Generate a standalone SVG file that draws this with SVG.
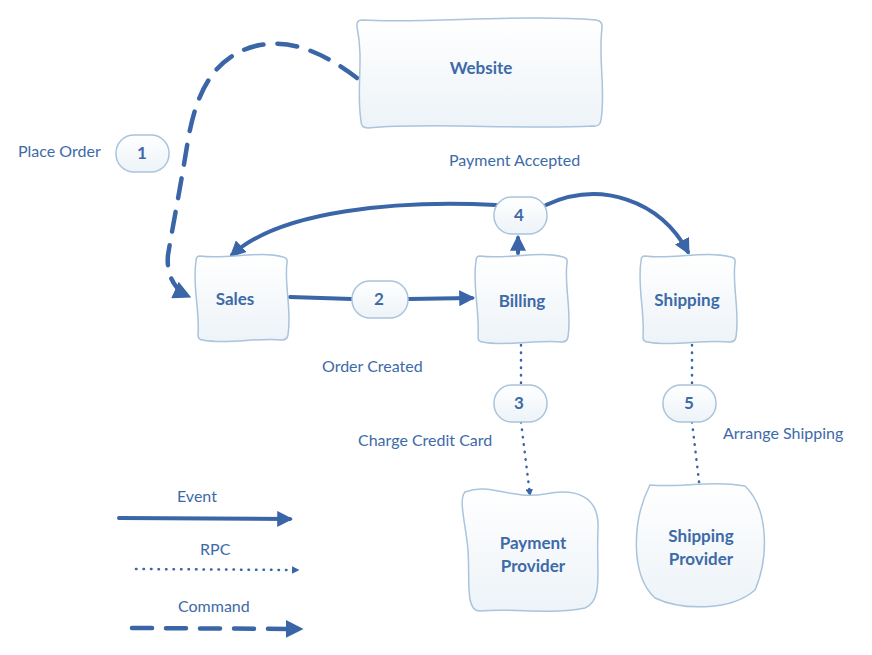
<svg xmlns="http://www.w3.org/2000/svg" width="872" height="655" viewBox="0 0 872 655">
<defs>
<linearGradient id="g" x1="0" y1="0" x2="0" y2="1"><stop offset="0" stop-color="#ffffff"/><stop offset="1" stop-color="#edf3f8"/></linearGradient>
<marker id="a" viewBox="0 0 10 10" refX="8" refY="5" markerWidth="4" markerHeight="4" orient="auto"><path d="M0,0 L10,5 L0,10 Z" fill="#3a65a6"/></marker>
<marker id="as" viewBox="0 0 10 10" refX="8" refY="5" markerWidth="3" markerHeight="3" orient="auto"><path d="M0,0 L10,5 L0,10 Z" fill="#3a65a6"/></marker>
<style>
.n{fill:url(#g);stroke:#a9c4dc;stroke-width:1.5}
.t{font-family:"Lato","Liberation Sans",sans-serif;fill:#3d6aa8;font-size:16px}
.b{font-weight:bold;font-size:17px;text-anchor:middle}
.c{font-weight:bold;font-size:17px;text-anchor:middle}
.s{fill:none;stroke:#3a65a6;stroke-width:4;stroke-linecap:round}
.d{fill:none;stroke:#3a65a6;stroke-width:2.5;stroke-dasharray:0.5 7;stroke-linecap:round}
.m{fill:none;stroke:#3a65a6;stroke-width:4.5;stroke-dasharray:20 14;stroke-linecap:round}
</style>
</defs>
<g id="connectors">
<path class="m" d="M357,78 C320,50 290,40 260,45 C210,55 195,100 188,140 C180,190 172,230 168,255 C166,275 175,290 188,296" marker-end="url(#a)"/>
<path class="s" d="M290,297 L352,299 M408,299 L472,298" marker-end="url(#a)"/>
<path class="s" d="M518,253 L518,238" marker-end="url(#a)"/>
<path class="s" d="M496,205 C400,200 280,210 232,255" marker-end="url(#a)"/>
<path class="s" d="M546,205 C600,180 660,200 688,252" marker-end="url(#a)"/>
<path class="d" d="M521,345 L521,384 M521,422 L530,495" marker-end="url(#as)"/>
<path class="d" d="M692,345 L692,384 M692,422 L700,490" marker-end="url(#as)"/>
<path class="s" d="M119,518 L290,519" marker-end="url(#a)"/>
<path class="d" d="M136,569 L298,570" marker-end="url(#as)"/>
<path class="m" d="M132,628 L300,629" marker-end="url(#a)"/>
</g>
<g id="website"><path class="n" d="M362,20 C420,24 520,14 596,20 Q603,21 602,28 C598,60 606,90 601,120 Q600,127 593,126 C520,130 430,122 368,128 Q361,128 361,121 C356,90 364,60 357,27 Q356,20 362,20 Z"/><text class="t b" x="481" y="74">Website</text></g>
<g id="sales"><path class="n" d="M200,256 C225,260 260,250 283,257 Q288,258 287,263 C284,285 292,310 288,335 Q287,340 282,340 C260,337 225,345 203,340 Q198,340 198,335 C200,310 192,285 196,261 Q196,256 200,256 Z"/><text class="t b" x="235" y="305">Sales</text></g>
<g id="billing"><path class="n" d="M480,256 C505,260 540,250 563,257 Q568,258 567,263 C564,285 572,312 568,337 Q567,342 562,342 C540,339 505,347 483,342 Q478,342 478,337 C480,312 472,285 476,261 Q476,256 480,256 Z"/><text class="t b" x="522" y="307">Billing</text></g>
<g id="shipping"><path class="n" d="M645,256 C670,260 705,250 731,257 Q736,258 735,263 C732,285 740,312 736,337 Q735,342 730,342 C705,339 670,347 648,342 Q643,342 643,337 C645,312 637,285 641,261 Q641,256 645,256 Z"/><text class="t b" x="687" y="306">Shipping</text></g>
<g id="payment"><path class="n" d="M465,492 C490,482 510,500 545,494 C575,488 600,495 598,530 C596,570 604,600 585,608 C550,615 515,608 480,611 C465,612 470,580 468,550 C466,525 458,500 465,492 Z"/><text class="t b" x="533" y="549">Payment</text><text class="t b" x="533" y="572">Provider</text></g>
<g id="shipprov"><path class="n" d="M650,485 C680,488 710,480 745,486 C770,510 768,560 755,590 C730,612 680,610 655,598 C630,575 632,520 650,485 Z"/><text class="t b" x="701" y="542">Shipping</text><text class="t b" x="701" y="565">Provider</text></g>
<g id="s1"><rect class="n" x="116" y="135" width="53" height="37" rx="18"/><text class="t c" x="142" y="159">1</text></g>
<g id="s2"><rect class="n" x="352" y="281" width="56" height="37" rx="18"/><text class="t c" x="379" y="305">2</text></g>
<g id="s3"><rect class="n" x="494" y="385" width="53" height="37" rx="18"/><text class="t c" x="519" y="409">3</text></g>
<g id="s4"><rect class="n" x="494" y="197" width="53" height="37" rx="18"/><text class="t c" x="519" y="221">4</text></g>
<g id="s5"><rect class="n" x="663" y="385" width="53" height="37" rx="18"/><text class="t c" x="689" y="409">5</text></g>
<g id="labels">
<text class="t" x="18" y="157">Place Order</text>
<text class="t" x="449" y="166">Payment Accepted</text>
<text class="t" x="322" y="372">Order Created</text>
<text class="t" x="358" y="446">Charge Credit Card</text>
<text class="t" x="723" y="439">Arrange Shipping</text>
<text class="t" x="177" y="502">Event</text>
<text class="t" x="200" y="555">RPC</text>
<text class="t" x="178" y="612">Command</text>
</g>
</svg>
